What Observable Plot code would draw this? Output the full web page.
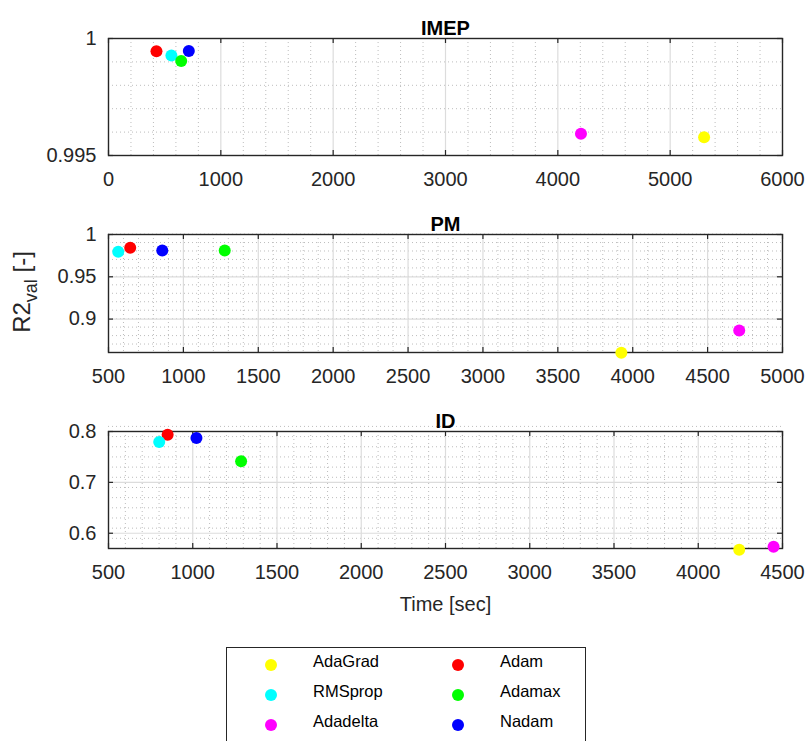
<!DOCTYPE html>
<html>
<head>
<meta charset="utf-8">
<script src="https://cdn.jsdelivr.net/npm/d3@7"></script>
<script src="https://cdn.jsdelivr.net/npm/@observablehq/plot@0.6"></script>
<style>
  html, body { margin: 0; padding: 0; background: #fff; overflow: hidden; }
  #wrap { position: relative; width: 810px; height: 741px; overflow: hidden; background: #fff;
          font-family: "Liberation Sans", Arial, Helvetica, sans-serif; }
  .panel { position: absolute; left: 0; }
  #legend { position: absolute; left: 226px; top: 647px; width: 360px; height: 110px;
            border: 1px solid #262626; background: #fff; box-sizing: border-box; }
  .item { position: absolute; height: 20px; font-size: 16.5px; color: #000; }
  .item .mk { position: absolute; width: 12px; height: 12px; border-radius: 50%; }
  .item .lb { position: absolute; white-space: nowrap; line-height: 20px; }
</style>
</head>
<body>
<div id="wrap"></div>
<script>
// ---- data ----
const optimizers = ["AdaGrad", "Adam", "RMSprop", "Adamax", "Adadelta", "Nadam"];
const colors = ["#ffff00", "#ff0000", "#00ffff", "#00ff00", "#ff00ff", "#0000ff"];

const imepTime = [5302, 427, 560, 647, 4206, 715];
const imepR2   = [0.99578, 0.99946, 0.99927, 0.99904, 0.99593, 0.99947];

const pmTime = [3924, 645, 565, 1276, 4711, 859];
const pmR2   = [0.8602, 0.9843, 0.9795, 0.9811, 0.8865, 0.9812];

const idTime = [4243, 851, 801, 1287, 4447, 1022];
const idR2   = [0.5676, 0.7938, 0.7795, 0.7415, 0.5736, 0.7872];

const imepXTicks = [0, 1000, 2000, 3000, 4000, 5000, 6000];
const imepYTicks = [0.995, 1];
const pmXTicks = [500, 1000, 1500, 2000, 2500, 3000, 3500, 4000, 4500, 5000];
const pmYTicks = [0.9, 0.95, 1];
const idXTicks = [500, 1000, 1500, 2000, 2500, 3000, 3500, 4000, 4500];
const idYTicks = [0.6, 0.7, 0.8];

const titles = ["IMEP", "PM", "ID"];
const xLabel = "Time [sec]";
// ---------------

const FONT = "'Liberation Sans', Arial, Helvetica, sans-serif";
const W = 810, ML = 108, MR = 28;
const innerW = W - ML - MR;

function rows(times, vals) {
  return optimizers.map((o, i) => ({opt: o, t: times[i], r: vals[i]}));
}
function minorOf(lo, hi, step, majors) {
  const out = [];
  const n = Math.round((hi - lo) / step);
  for (let k = 0; k <= n; k++) {
    const v = +(lo + k * step).toFixed(6);
    if (!majors.some(m => Math.abs(m - v) < step / 100)) out.push(v);
  }
  return out;
}

function panel({title, data, xDomain, yDomain, xTicks, yTicks, xMinor, yMinor,
                height, marginTop, marginBottom, extra = []}) {
  const innerH = height - marginTop - marginBottom;
  const mx = minorOf(xDomain[0], xDomain[1], xMinor, xTicks);
  const my = minorOf(yDomain[0], yDomain[1], yMinor, yTicks);
  const gx = xTicks.filter(v => v > xDomain[0] && v < xDomain[1]);
  const gy = yTicks.filter(v => v > yDomain[0] && v < yDomain[1]);
  return Plot.plot({
    width: W, height, marginLeft: ML, marginRight: MR, marginTop, marginBottom,
    style: {fontFamily: FONT, fontSize: "20px", color: "#262626", background: "#fff", overflow: "visible"},
    x: {domain: xDomain},
    y: {domain: yDomain},
    color: {domain: optimizers, range: colors},
    marks: [
      Plot.ruleX(mx, {stroke: "#bdbdbd", strokeDasharray: "1,3", strokeWidth: 1}),
      Plot.ruleY(my, {stroke: "#bdbdbd", strokeDasharray: "1,3", strokeWidth: 1}),
      Plot.ruleX(gx, {stroke: "#dcdcdc", strokeWidth: 1.2}),
      Plot.ruleY(gy, {stroke: "#dcdcdc", strokeWidth: 1.2}),
      Plot.tickX(xTicks, {x: d => d, stroke: "#262626", strokeWidth: 1.2, insetTop: innerH - 5}),
      Plot.tickX(xTicks, {x: d => d, stroke: "#262626", strokeWidth: 1.2, insetBottom: innerH - 5}),
      Plot.tickY(yTicks, {y: d => d, stroke: "#262626", strokeWidth: 1.2, insetRight: innerW - 5}),
      Plot.tickY(yTicks, {y: d => d, stroke: "#262626", strokeWidth: 1.2, insetLeft: innerW - 5}),
      Plot.frame({stroke: "#262626", strokeWidth: 1.4}),
      Plot.axisX(xTicks, {anchor: "bottom", tickSize: 0, tickPadding: 16, label: null,
                          tickFormat: d => String(d), fill: "#262626"}),
      Plot.axisY(yTicks, {anchor: "left", tickSize: 0, tickPadding: 12, label: null,
                          tickFormat: d => String(d), fill: "#262626"}),
      Plot.dot(data, {x: "t", y: "r", fill: "opt", r: 6, stroke: null}),
      Plot.text([title], {text: d => d, frameAnchor: "top", dy: -18, fontWeight: "bold",
                          fontSize: 20, fill: "#000"}),
      ...extra
    ]
  });
}

const wrap = document.getElementById("wrap");

const p1 = panel({
  title: titles[0], data: rows(imepTime, imepR2),
  xDomain: [0, 6000], yDomain: [0.995, 1], xTicks: imepXTicks, yTicks: imepYTicks,
  xMinor: 200, yMinor: 0.001, height: 200, marginTop: 38, marginBottom: 45
});
const p2 = panel({
  title: titles[1], data: rows(pmTime, pmR2),
  xDomain: [500, 5000], yDomain: [0.8605, 1], xTicks: pmXTicks, yTicks: pmYTicks,
  xMinor: 100, yMinor: 0.01, height: 200, marginTop: 34, marginBottom: 48
});
const p3 = panel({
  title: titles[2], data: rows(idTime, idR2),
  xDomain: [500, 4500], yDomain: [0.57, 0.8], xTicks: idXTicks, yTicks: idYTicks,
  xMinor: 100, yMinor: 0.02, height: 240, marginTop: 31, marginBottom: 92,
  extra: [Plot.text([xLabel], {text: d => d, frameAnchor: "bottom", dy: 62, fontSize: 20, fill: "#262626"})]
});

[[p1, 0], [p2, 200], [p3, 400]].forEach(([p, top]) => {
  p.classList.add("panel");
  p.style.top = top + "px";
  wrap.appendChild(p);
});

// y-axis label with subscript on the middle panel
const yl = d3.select(p2).append("text")
  .attr("transform", "translate(30,92) rotate(-90)")
  .attr("text-anchor", "middle")
  .attr("fill", "#262626")
  .attr("font-family", FONT)
  .attr("font-size", 24);
yl.append("tspan").text("R2");
yl.append("tspan").attr("font-size", 18).attr("dy", 7).text("val");
yl.append("tspan").attr("dy", -7).text(" [-]");

// legend
const legend = document.createElement("div");
legend.id = "legend";
optimizers.forEach((o, i) => {
  const col = i % 2, row = Math.floor(i / 2);
  const it = document.createElement("div");
  it.className = "item";
  it.style.left = (col === 0 ? 0 : 187) + "px";
  it.style.top = (6 + row * 30) + "px";
  const mk = document.createElement("span");
  mk.className = "mk";
  mk.style.background = colors[i];
  mk.style.left = "38px";
  mk.style.top = "5px";
  const lb = document.createElement("span");
  lb.className = "lb";
  lb.style.left = "86px";
  lb.style.top = "-3px";
  lb.textContent = o;
  it.appendChild(mk);
  it.appendChild(lb);
  legend.appendChild(it);
});
wrap.appendChild(legend);
</script>
</body>
</html>
